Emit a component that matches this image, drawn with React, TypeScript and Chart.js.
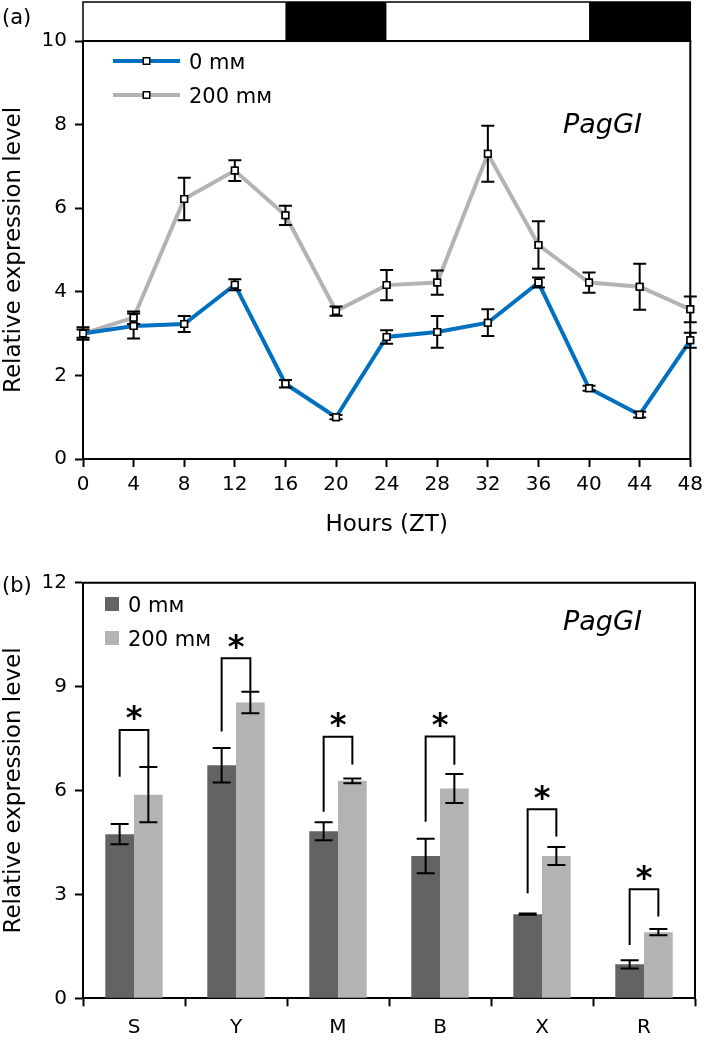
import React, { useEffect, useRef } from 'react';
import { Chart, registerables } from 'chart.js';

Chart.register(...registerables);

const FONT = "'DejaVu Sans', sans-serif";

// ---------- Panel (a): time course ----------
const hours = [0, 4, 8, 12, 16, 20, 24, 28, 32, 36, 40, 44, 48];
const ctrlTime = [3.0, 3.18, 3.23, 4.17, 1.8, 1.0, 2.92, 3.04, 3.26, 4.22, 1.69, 1.06, 2.84];
const ctrlTimeErr = [0.1, 0.3, 0.19, 0.13, 0.09, 0.05, 0.16, 0.38, 0.32, 0.12, 0.06, 0.07, 0.18];
const saltTime = [3.0, 3.38, 6.22, 6.9, 5.83, 3.54, 4.16, 4.22, 7.3, 5.12, 4.22, 4.12, 3.58];
const saltTimeErr = [0.15, 0.15, 0.51, 0.25, 0.23, 0.11, 0.36, 0.29, 0.67, 0.57, 0.24, 0.55, 0.31];
const phaseStart = [0, 16, 24, 40];
const phaseEnd = [16, 24, 40, 48];
const phaseDark = [false, true, false, true];
const seriesLabels = ['0 m\u1D0D', '200 m\u1D0D'];
const geneName = 'PagGI';
const xTitle = 'Hours (ZT)';
const yTitle = 'Relative expression level';

// ---------- Panel (b): tissues ----------
const tissues = ['S', 'Y', 'M', 'B', 'X', 'R'];
const ctrlTissue = [4.74, 6.73, 4.82, 4.11, 2.43, 0.98];
const ctrlTissueErr = [0.29, 0.5, 0.26, 0.5, 0.02, 0.12];
const saltTissue = [5.88, 8.54, 6.28, 6.06, 4.11, 1.91];
const saltTissueErr = [0.8, 0.31, 0.07, 0.42, 0.26, 0.09];
const bracketTop = [7.75, 9.82, 7.55, 7.56, 5.46, 3.15];
const bracketLeftEnd = [6.4, 7.7, 5.39, 5.1, 3.03, 1.54];
const bracketRightEnd = [6.7, 8.88, 6.75, 6.74, 4.67, 2.36];
const sigMarks = ['*', '*', '*', '*', '*', '*'];

const BLUE = '#0070c0';
const GRAY_LINE = '#b3b3b3';
const DARK_BAR = '#636363';
const LIGHT_BAR = '#b3b3b3';

const errorBarPlugin = {
  id: 'errorBars',
  afterDatasetsDraw(chart: any, _a: any, opts: any) {
    const { ctx } = chart;
    const ys = chart.scales.y;
    ctx.save();
    ctx.strokeStyle = '#000';
    ctx.lineWidth = opts.lineWidth;
    chart.data.datasets.forEach((ds: any, i: number) => {
      const meta = chart.getDatasetMeta(i);
      const errs = opts.errors[i];
      meta.data.forEach((el: any, j: number) => {
        const raw = ds.data[j];
        const v = typeof raw === 'number' ? raw : raw.y;
        const e = errs[j];
        const x = el.x;
        const yt = ys.getPixelForValue(v + e);
        const yb = ys.getPixelForValue(v - e);
        ctx.beginPath();
        ctx.moveTo(x, yt);
        ctx.lineTo(x, yb);
        ctx.moveTo(x - opts.cap, yt);
        ctx.lineTo(x + opts.cap, yt);
        ctx.moveTo(x - opts.cap, yb);
        ctx.lineTo(x + opts.cap, yb);
        ctx.stroke();
      });
    });
    if (opts.redrawPoints) {
      for (let i = chart.data.datasets.length - 1; i >= 0; i--) {
        const meta = chart.getDatasetMeta(i);
        meta.data.forEach((el: any) => el.draw(ctx, chart.chartArea));
      }
    }
    ctx.restore();
  },
};

const framePlugin = {
  id: 'frame',
  afterDatasetsDraw(chart: any, _a: any, opts: any) {
    const { ctx, chartArea } = chart;
    ctx.save();
    ctx.strokeStyle = '#000';
    ctx.lineWidth = 2;
    ctx.beginPath();
    if (opts.top) {
      ctx.moveTo(chartArea.left, chartArea.top);
      ctx.lineTo(chartArea.right, chartArea.top);
    }
    ctx.moveTo(chartArea.right, chartArea.top - (opts.top ? 1 : 0));
    ctx.lineTo(chartArea.right, chartArea.bottom + 1);
    ctx.stroke();
    ctx.restore();
  },
};

const phasePlugin = {
  id: 'phase',
  afterDraw(chart: any, _a: any, opts: any) {
    const { ctx, chartArea } = chart;
    const xs = chart.scales.x;
    const y0 = opts.y;
    const y1 = chartArea.top;
    ctx.save();
    opts.starts.forEach((s: number, i: number) => {
      const a = xs.getPixelForValue(s);
      const b = xs.getPixelForValue(opts.ends[i]);
      ctx.fillStyle = opts.dark[i] ? '#000' : '#fff';
      ctx.fillRect(a, y0, b - a, y1 - y0);
    });
    ctx.strokeStyle = '#000';
    ctx.lineWidth = 1.5;
    const l = xs.getPixelForValue(opts.starts[0]);
    const r = xs.getPixelForValue(opts.ends[opts.ends.length - 1]);
    ctx.strokeRect(l, y0, r - l, y1 - y0);
    ctx.lineWidth = 2;
    ctx.beginPath();
    ctx.moveTo(l - 1, y1);
    ctx.lineTo(r + 1, y1);
    ctx.stroke();
    ctx.restore();
  },
};

const lineLegendPlugin = {
  id: 'lineLegend',
  afterDraw(chart: any, _a: any, opts: any) {
    const { ctx, chartArea } = chart;
    ctx.save();
    chart.data.datasets.forEach((ds: any, i: number) => {
      const y = chartArea.top + opts.top + i * opts.rowGap;
      const x0 = opts.left;
      const x1 = opts.left + opts.lineLength;
      ctx.strokeStyle = ds.borderColor;
      ctx.lineWidth = ds.borderWidth;
      ctx.beginPath();
      ctx.moveTo(x0, y);
      ctx.lineTo(x1, y);
      ctx.stroke();
      const half = Math.SQRT1_2 * ds.pointRadius;
      const xm = (x0 + x1) / 2;
      ctx.fillStyle = '#fff';
      ctx.strokeStyle = '#000';
      ctx.lineWidth = ds.pointBorderWidth;
      ctx.beginPath();
      ctx.rect(xm - half, y - half, 2 * half, 2 * half);
      ctx.fill();
      ctx.stroke();
      ctx.fillStyle = '#000';
      ctx.font = `${opts.size}px ${FONT}`;
      ctx.textBaseline = 'alphabetic';
      ctx.textAlign = 'left';
      ctx.fillText(ds.label, x1 + opts.textGap, y + 0.3645 * opts.size);
    });
    ctx.restore();
  },
};

const boxLegendPlugin = {
  id: 'boxLegend',
  afterDraw(chart: any, _a: any, opts: any) {
    const { ctx, chartArea } = chart;
    ctx.save();
    chart.data.datasets.forEach((ds: any, i: number) => {
      const y = chartArea.top + opts.top + i * opts.rowGap;
      ctx.fillStyle = ds.backgroundColor;
      ctx.fillRect(opts.left, y - opts.box / 2, opts.box, opts.box);
      ctx.fillStyle = '#000';
      ctx.font = `${opts.size}px ${FONT}`;
      ctx.textBaseline = 'alphabetic';
      ctx.textAlign = 'left';
      ctx.fillText(ds.label, opts.left + opts.box + opts.textGap, y + 0.3645 * opts.size);
    });
    ctx.restore();
  },
};

const textPlugin = {
  id: 'texts',
  afterDraw(chart: any, _a: any, opts: any) {
    const { ctx } = chart;
    ctx.save();
    ctx.fillStyle = '#000';
    ctx.textBaseline = 'alphabetic';
    ctx.textAlign = 'left';
    opts.items.forEach((it: any) => {
      ctx.font = it.font;
      ctx.fillText(it.text, it.x, it.y);
    });
    ctx.restore();
  },
};

const bracketPlugin = {
  id: 'brackets',
  afterDatasetsDraw(chart: any, _a: any, opts: any) {
    const { ctx } = chart;
    const ys = chart.scales.y;
    const m0 = chart.getDatasetMeta(0);
    const m1 = chart.getDatasetMeta(1);
    ctx.save();
    ctx.strokeStyle = '#000';
    ctx.fillStyle = '#000';
    ctx.lineWidth = opts.lineWidth;
    ctx.font = opts.font;
    ctx.textAlign = 'center';
    ctx.textBaseline = 'alphabetic';
    opts.top.forEach((t: number, j: number) => {
      const x0 = m0.data[j].x;
      const x1 = m1.data[j].x;
      const yt = ys.getPixelForValue(t);
      ctx.beginPath();
      ctx.moveTo(x0, ys.getPixelForValue(opts.left[j]));
      ctx.lineTo(x0, yt);
      ctx.lineTo(x1, yt);
      ctx.lineTo(x1, ys.getPixelForValue(opts.right[j]));
      ctx.stroke();
      ctx.fillText(opts.marks[j], (x0 + x1) / 2, yt - opts.gap + opts.markOffset);
    });
    ctx.restore();
  },
};

const axisCommon = (size: number) => ({
  color: '#000',
  font: { size, family: FONT },
});

function TimeChart() {
  const ref = useRef<HTMLCanvasElement | null>(null);
  useEffect(() => {
    if (!ref.current) return;
    const chart = new Chart(ref.current, {
      type: 'line',
      data: {
        datasets: [
          {
            label: seriesLabels[0],
            data: hours.map((h, i) => ({ x: h, y: ctrlTime[i] })),
            borderColor: BLUE,
            borderWidth: 4,
            pointStyle: 'rect',
            pointRadius: 4.6,
            pointBackgroundColor: '#fff',
            pointBorderColor: '#000',
            pointBorderWidth: 1.5,
            clip: false,
            tension: 0,
          } as any,
          {
            label: seriesLabels[1],
            data: hours.map((h, i) => ({ x: h, y: saltTime[i] })),
            borderColor: GRAY_LINE,
            borderWidth: 4,
            pointStyle: 'rect',
            pointRadius: 4.6,
            pointBackgroundColor: '#fff',
            pointBorderColor: '#000',
            pointBorderWidth: 1.5,
            clip: false,
            tension: 0,
          } as any,
        ],
      },
      options: {
        responsive: false,
        animation: false,
        events: [],
        layout: { padding: { top: 41, right: 13, left: 0, bottom: 0 } },
        plugins: {
          legend: { display: false },
          tooltip: { enabled: false },
          errorBars: { errors: [ctrlTimeErr, saltTimeErr], cap: 6.5, lineWidth: 2, redrawPoints: true },
          phase: { starts: phaseStart, ends: phaseEnd, dark: phaseDark, y: 2 },
          frame: { top: false },
          lineLegend: { left: 113, lineLength: 67, top: 20, rowGap: 34, size: 21, textGap: 9 },
          texts: {
            items: [
              { text: geneName, x: 563, y: 133, font: `italic 27px ${FONT}` },
              { text: '(a)', x: 2, y: 24, font: `21px ${FONT}` },
            ],
          },
        } as any,
        scales: {
          x: {
            type: 'linear',
            min: 0,
            max: 48,
            ticks: { ...axisCommon(20), stepSize: 4, padding: 6, autoSkip: false, maxRotation: 0 },
            grid: { drawOnChartArea: false, tickLength: 8, tickColor: '#000', tickWidth: 2 },
            border: { color: '#000', width: 2 },
            title: { display: true, text: xTitle, ...axisCommon(23), padding: { top: 0, bottom: 6 } },
            afterFit: (s: any) => {
              s.height = 86;
            },
          },
          y: {
            min: 0,
            max: 10,
            ticks: { ...axisCommon(20), stepSize: 2, padding: 8 },
            grid: { drawOnChartArea: false, tickLength: 8, tickColor: '#000', tickWidth: 2 },
            border: { color: '#000', width: 2 },
            title: { display: true, text: yTitle, ...axisCommon(23), padding: 0 },
            afterFit: (s: any) => {
              s.width = 83;
            },
          },
        } as any,
      },
      plugins: [phasePlugin, framePlugin, errorBarPlugin, lineLegendPlugin, textPlugin],
    });
    return () => chart.destroy();
  }, []);
  return (
    <canvas
      ref={ref}
      width={709}
      height={545}
      style={{ position: 'absolute', left: 0, top: 0, width: 709, height: 545 }}
    />
  );
}

function TissueChart() {
  const ref = useRef<HTMLCanvasElement | null>(null);
  useEffect(() => {
    if (!ref.current) return;
    const chart = new Chart(ref.current, {
      type: 'bar',
      data: {
        labels: tissues,
        datasets: [
          { label: seriesLabels[0], data: ctrlTissue, backgroundColor: DARK_BAR, categoryPercentage: 0.563, barPercentage: 1 },
          { label: seriesLabels[1], data: saltTissue, backgroundColor: LIGHT_BAR, categoryPercentage: 0.563, barPercentage: 1 },
        ],
      },
      options: {
        responsive: false,
        animation: false,
        events: [],
        layout: { padding: { top: 37.7, right: 14, left: 0, bottom: 0 } },
        plugins: {
          legend: { display: false },
          tooltip: { enabled: false },
          errorBars: { errors: [ctrlTissueErr, saltTissueErr], cap: 9, lineWidth: 2 },
          frame: { top: true },
          brackets: {
            top: bracketTop,
            left: bracketLeftEnd,
            right: bracketRightEnd,
            marks: sigMarks,
            gap: 19,
            markOffset: 17.6,
            lineWidth: 2,
            font: `bold 32px ${FONT}`,
          },
          boxLegend: { left: 105, box: 14, top: 21.3, rowGap: 34, size: 21, textGap: 9 },
          texts: {
            items: [
              { text: geneName, x: 563, y: 630 - 545, font: `italic 27px ${FONT}` },
              { text: '(b)', x: 2, y: 592 - 545, font: `21px ${FONT}` },
            ],
          },
        } as any,
        scales: {
          x: {
            ticks: { ...axisCommon(20), padding: 9, maxRotation: 0 },
            grid: { drawOnChartArea: false, offset: true, tickLength: 8, tickColor: '#000', tickWidth: 2 },
            border: { color: '#000', width: 2 },
            afterFit: (s: any) => {
              s.height = 497 - (998.3 - 545);
            },
          },
          y: {
            min: 0,
            max: 12,
            ticks: { ...axisCommon(20), stepSize: 3, padding: 8 },
            grid: { drawOnChartArea: false, tickLength: 8, tickColor: '#000', tickWidth: 2 },
            border: { color: '#000', width: 2 },
            title: { display: true, text: yTitle, ...axisCommon(23), padding: 0 },
            afterFit: (s: any) => {
              s.width = 83;
            },
          },
        } as any,
      },
      plugins: [framePlugin, errorBarPlugin, bracketPlugin, boxLegendPlugin, textPlugin],
    });
    return () => chart.destroy();
  }, []);
  return (
    <canvas
      ref={ref}
      width={709}
      height={497}
      style={{ position: 'absolute', left: 0, top: 545, width: 709, height: 497 }}
    />
  );
}

export default function App() {
  return (
    <div style={{ position: 'absolute', left: 0, top: 0, width: 709, height: 1042, background: '#fff', overflow: 'hidden' }}>
      <TimeChart />
      <TissueChart />
    </div>
  );
}
